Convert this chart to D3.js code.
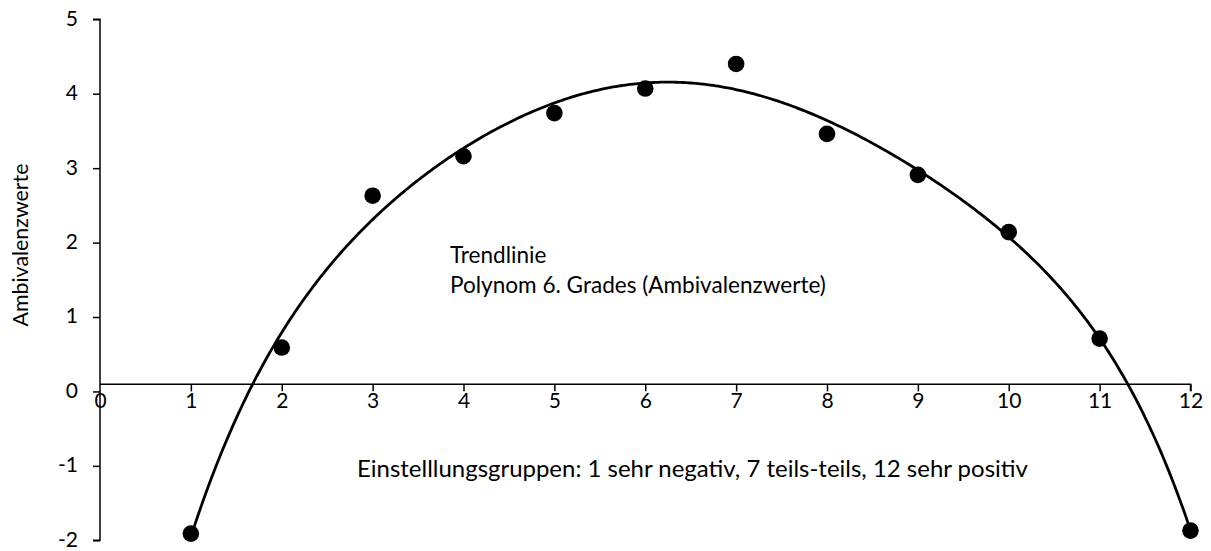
<!DOCTYPE html>
<html>
<head>
<meta charset="utf-8">
<script src="https://cdn.jsdelivr.net/npm/d3@7"></script>
<style>
  html, body { margin: 0; padding: 0; background: #fff; }
  svg { display: block; }
  text { font-family: "Lato", "Open Sans", sans-serif; fill: #000; }
</style>
</head>
<body>
<svg id="chart" width="1211" height="551"></svg>
<script>
// ---- data ----
const groups = [1, 2, 3, 4, 5, 6, 7, 8, 9, 10, 11, 12];
const ambivalence = [-1.91, 0.59, 2.63, 3.16, 3.74, 4.07, 4.40, 3.46, 2.91, 2.14, 0.71, -1.87];
const xTicks = [0, 1, 2, 3, 4, 5, 6, 7, 8, 9, 10, 11, 12];
const yTicks = [-2, -1, 0, 1, 2, 3, 4, 5];
const xAxisCross = 0.095;
const polyDegree = 6;
const yTitle = "Ambivalenzwerte";
const xTitle = "Einstelllungsgruppen: 1 sehr negativ, 7 teils-teils, 12 sehr positiv";
const trendLabel = ["Trendlinie", "Polynom 6. Grades (Ambivalenzwerte)"];

// ---- polynomial least squares fit (trendline) ----
function polyfit(xs, ys, deg) {
  const c = 6.5, s = 5.5;
  const n = deg + 1;
  const A = Array.from({length: n}, () => new Array(n + 1).fill(0));
  xs.forEach((x, k) => {
    const t = (x - c) / s;
    const p = [];
    for (let i = 0; i < n; i++) p.push(Math.pow(t, i));
    for (let i = 0; i < n; i++) {
      for (let j = 0; j < n; j++) A[i][j] += p[i] * p[j];
      A[i][n] += p[i] * ys[k];
    }
  });
  for (let i = 0; i < n; i++) {
    let m = i;
    for (let r = i + 1; r < n; r++) if (Math.abs(A[r][i]) > Math.abs(A[m][i])) m = r;
    [A[i], A[m]] = [A[m], A[i]];
    for (let r = 0; r < n; r++) {
      if (r === i) continue;
      const f = A[r][i] / A[i][i];
      for (let j = i; j <= n; j++) A[r][j] -= f * A[i][j];
    }
  }
  const coef = A.map((row, i) => row[n] / row[i]);
  return x => {
    const t = (x - c) / s;
    let v = 0;
    for (let i = n - 1; i >= 0; i--) v = v * t + coef[i];
    return v;
  };
}
const trend = polyfit(groups, ambivalence, polyDegree);

// scale a text's font size so that it spans the given width
function fitWidth(sel, width) {
  const node = sel.node();
  const fs = parseFloat(sel.style("font-size"));
  const w = node.getComputedTextLength();
  if (w > 0) sel.style("font-size", (fs * width / w).toFixed(2) + "px");
  return sel;
}

// ---- layout ----
const svg = d3.select("#chart");
const x = d3.scaleLinear().domain([0, 12]).range([100, 1190.5]);
const y = d3.scaleLinear().domain([-2, 5]).range([540.3, 19.3]);

// y axis
const yAxis = svg.append("g")
  .attr("transform", `translate(${x(0)},0)`)
  .call(d3.axisLeft(y).tickValues(yTicks).tickSize(7).tickPadding(15).tickFormat(d => String(d)));
yAxis.select(".domain").attr("d", `M-7,${y(5)}H0V${y(-2)}H-7`);

// x axis (crossing at xAxisCross)
const xAxis = svg.append("g")
  .attr("transform", `translate(0,${y(xAxisCross)})`)
  .call(d3.axisBottom(x).tickValues(xTicks).tickSize(7).tickPadding(2).tickFormat(d => String(d)));
xAxis.select(".domain").attr("d", `M${x(0)},0H${x(12)}V7`);

svg.selectAll(".domain, .tick line").attr("stroke", "#000").attr("stroke-width", 1.5);
svg.selectAll(".tick text").style("font-size", "21px").attr("fill", "#000");
yAxis.selectAll(".tick text").attr("dy", "0.28em");
xAxis.selectAll(".tick").filter(d => d === 0).select("line").remove();

// axis title
const yt = svg.append("text")
  .attr("transform", `translate(28,${245}) rotate(-90)`)
  .attr("text-anchor", "middle")
  .style("font-size", "22px")
  .text(yTitle);
fitWidth(yt, 163);

// trend line
const samples = d3.range(0, 401).map(i => 1 + i * 11 / 400);
svg.append("path")
  .datum(samples)
  .attr("fill", "none")
  .attr("stroke", "#000")
  .attr("stroke-width", 2.8)
  .attr("d", d3.line().x(d => x(d)).y(d => y(trend(d))));

// points
svg.selectAll("circle.pt")
  .data(groups.map((g, i) => ({g, v: ambivalence[i]})))
  .join("circle")
  .attr("class", "pt")
  .attr("cx", d => x(d.g))
  .attr("cy", d => y(d.v))
  .attr("r", 8.3)
  .attr("fill", "#000");

// labels
const t2 = svg.append("text")
  .attr("x", 450).attr("y", 293)
  .style("font-size", "22px")
  .text(trendLabel[1]);
fitWidth(t2, 376);
svg.append("text")
  .attr("x", 450).attr("y", 263)
  .style("font-size", t2.style("font-size"))
  .text(trendLabel[0]);

const xt = svg.append("text")
  .attr("x", 357).attr("y", 477)
  .style("font-size", "22px")
  .text(xTitle);
fitWidth(xt, 671);
</script>
</body>
</html>
